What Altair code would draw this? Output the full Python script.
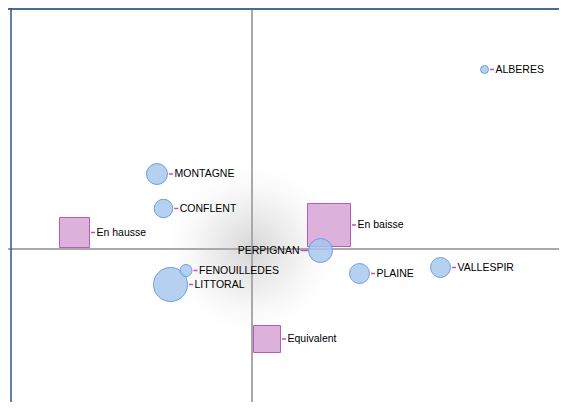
import json
import altair as alt
import pandas as pd

# ---- data (factor map coordinates) ----
zones = ["ALBERES", "MONTAGNE", "CONFLENT", "LITTORAL", "FENOUILLEDES",
         "PERPIGNAN", "PLAINE", "VALLESPIR"]
zone_x = [0.93, -0.38, -0.354, -0.326, -0.264, 0.274, 0.43, 0.754]
zone_y = [0.718, 0.30, 0.162, -0.142, -0.086, -0.006, -0.098, -0.074]
zone_w = [0.64, 4.41, 3.42, 11.56, 1.44, 5.76, 4.0, 4.0]

tendances = ["En hausse", "En baisse", "Equivalent"]
tend_x = [-0.71, 0.308, 0.06]
tend_y = [0.066, 0.096, -0.36]
tend_w = [9.0, 18.49, 7.29]

left_labels = ["PERPIGNAN"]

# ---- layout / style ----
W, H = 551, 394
XDOM = [-0.976, 1.228]
YDOM = [-0.612, 0.964]
SIZE_DOM = [0, 20]
SIZE_RANGE = [0, 2000]
K = (SIZE_RANGE[1] / SIZE_DOM[1]) ** 0.5 / 2  # radius (px) per sqrt(weight)
FONT = "Liberation Sans"

zones_df = pd.DataFrame({"label": zones, "x": zone_x, "y": zone_y, "w": zone_w, "kind": "zone"})
tend_df = pd.DataFrame({"label": tendances, "x": tend_x, "y": tend_y, "w": tend_w, "kind": "tendance"})
all_df = pd.concat([tend_df, zones_df], ignore_index=True)
origin_df = pd.DataFrame({"x": [0.0], "y": [0.0]})

xs = alt.Scale(domain=XDOM, nice=False, zero=False)
ys = alt.Scale(domain=YDOM, nice=False, zero=False)
X = alt.X("x:Q", scale=xs, axis=None)
Y = alt.Y("y:Q", scale=ys, axis=None)
S = alt.Size("w:Q", scale=alt.Scale(domain=SIZE_DOM, range=SIZE_RANGE), legend=None)

halo = alt.Chart(origin_df).mark_point(
    shape="circle", filled=True, size=34000, opacity=1, strokeWidth=0,
    fill=alt.Gradient(
        gradient="radial",
        stops=[alt.GradientStop(color="rgba(150,150,150,0.40)", offset=0),
               alt.GradientStop(color="rgba(190,190,190,0.22)", offset=0.5),
               alt.GradientStop(color="rgba(255,255,255,0)", offset=1)],
        x1=0.5, y1=0.5, r1=0, x2=0.5, y2=0.5, r2=0.5),
).encode(x=X, y=Y)

vline = alt.Chart(origin_df).mark_rule(color="#a9a9a9", strokeWidth=2).encode(x=X)
hline = alt.Chart(origin_df).mark_rule(color="#a9a9a9", strokeWidth=2).encode(y=Y)

top_border = alt.Chart(origin_df).mark_rule(color="#4a6a9a", strokeWidth=3).encode(y=alt.value(0.5))
left_border = alt.Chart(origin_df).mark_rule(color="#2f5597", strokeWidth=1.5).encode(x=alt.value(3))

squares = alt.Chart(tend_df).mark_point(
    shape="square", filled=True, fill="#dcb1dc", fillOpacity=1,
    stroke="#b85ab8", strokeWidth=1, strokeOpacity=1, opacity=1,
).encode(x=X, y=Y, size=S)

circles = alt.Chart(zones_df).mark_point(
    shape="circle", filled=True, fill="#a6c6ec", fillOpacity=0.82,
    stroke="#6fa0dc", strokeWidth=1, strokeOpacity=1, opacity=1,
).encode(x=X, y=Y, size=S)

left_list = json.dumps(left_labels)
is_left = f"indexof({left_list}, datum.label) >= 0"
is_right = f"indexof({left_list}, datum.label) < 0"
R = f"{K}*sqrt(datum.w)"

conn_right = alt.Chart(all_df).transform_filter(is_right).mark_rule(
    color="#c84ac8", strokeWidth=1.5,
    xOffset=alt.ExprRef(expr=f"{R} + 1.5"), x2Offset=alt.ExprRef(expr=f"{R} + 5.5"),
).encode(x=X, x2="x:Q", y=Y)

conn_left = alt.Chart(all_df).transform_filter(is_left).mark_rule(
    color="#c84ac8", strokeWidth=1.5,
    xOffset=alt.ExprRef(expr=f"-({R} + 0.5)"), x2Offset=alt.ExprRef(expr=f"-({R} + 8)"),
).encode(x=X, x2="x:Q", y=Y)

text_right = alt.Chart(all_df).transform_filter(is_right).mark_text(
    align="left", baseline="middle", font=FONT, fontSize=10.5, color="#000000",
    dx=alt.ExprRef(expr=f"{R} + 7"),
).encode(x=X, y=Y, text="label:N")

text_left = alt.Chart(all_df).transform_filter(is_left).mark_text(
    align="right", baseline="middle", font=FONT, fontSize=10.5, color="#000000",
    dx=alt.ExprRef(expr=f"-({R} + 9)"),
).encode(x=X, y=Y, text="label:N")

chart = alt.layer(
    halo, vline, hline, squares, circles, conn_right, conn_left,
    text_right, text_left, top_border, left_border,
).properties(
    width=W, height=H, padding=0, autosize="none", background="white",
).configure_view(stroke="transparent")

chart.save("out.html", embed_options={"renderer": "svg", "actions": False})
